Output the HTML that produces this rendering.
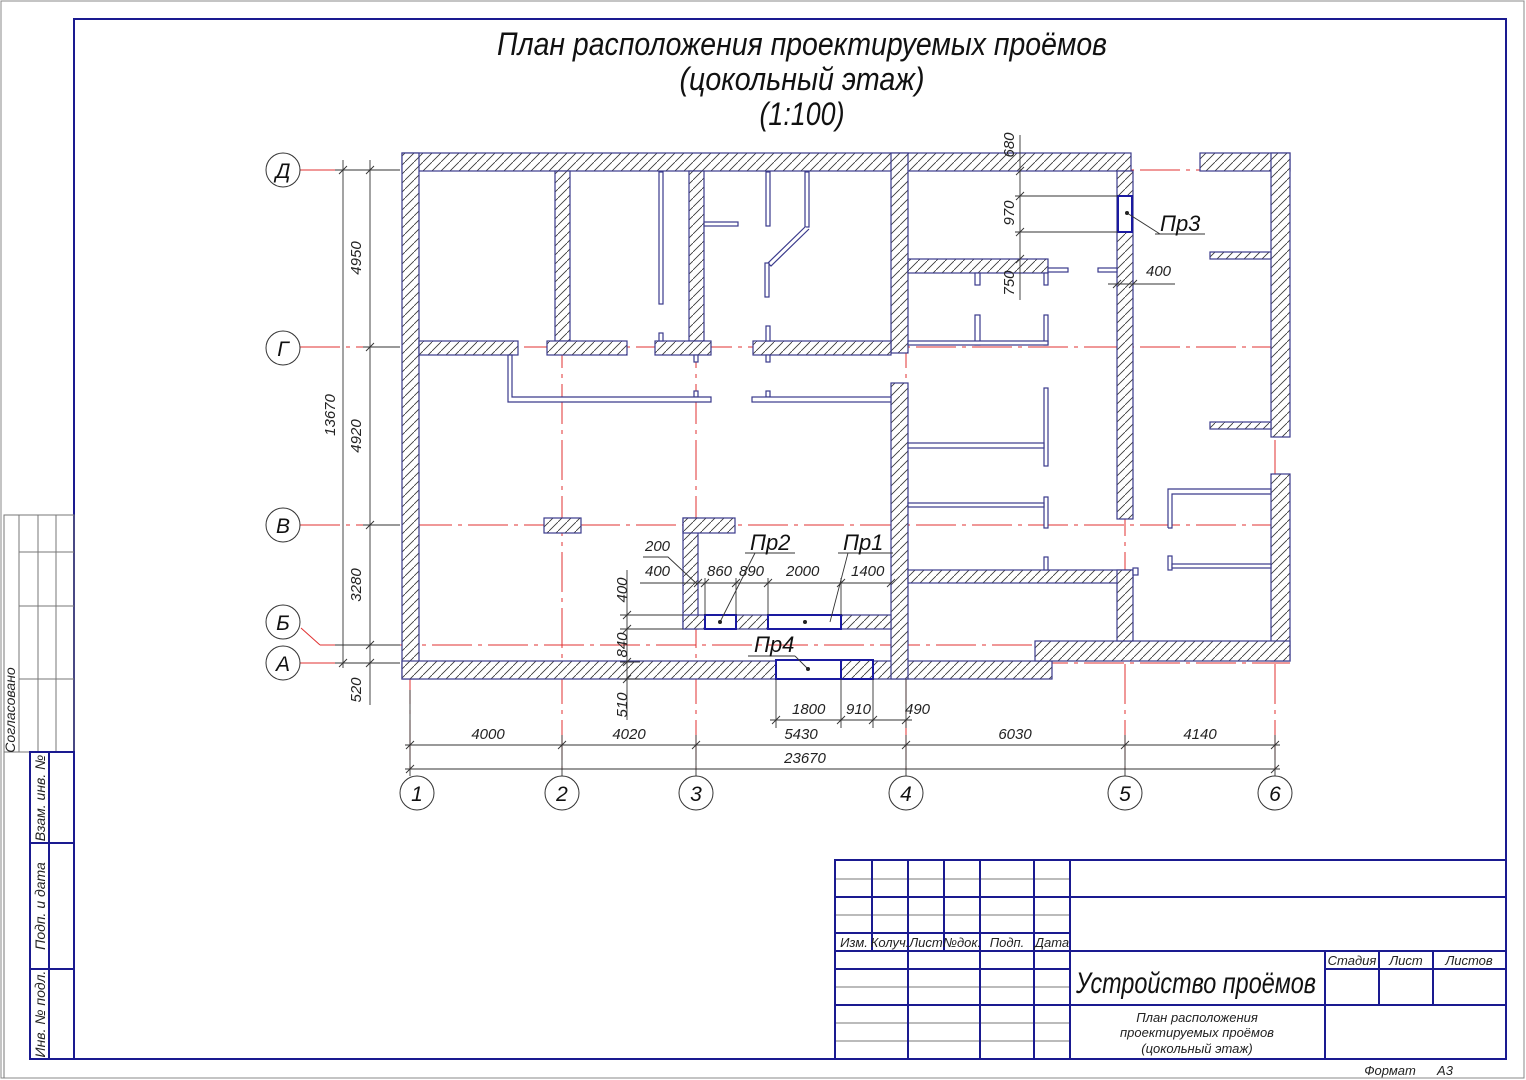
<!DOCTYPE html>
<html><head><meta charset="utf-8"><style>
html,body{margin:0;padding:0;background:#fff;}
svg{display:block;font-family:"Liberation Sans",sans-serif;font-style:italic;}
.w{fill:url(#h);stroke:#3a3a8c;stroke-width:1.2}
.p{fill:#fff;stroke:#3a3a8c;stroke-width:1.2}
.o{fill:#fff;stroke:#1a1aa0;stroke-width:2}
.ax{stroke:#e03030;stroke-width:1;stroke-dasharray:40 6 4 6;fill:none}
.d{stroke:#333;stroke-width:0.9;fill:none}
.t{font-size:15px;fill:#222}
.b{fill:#fff;stroke:#333;stroke-width:1}
.bl{stroke:#1a1a90;stroke-width:2;fill:none}
.g{stroke:#777;stroke-width:1;fill:none}
</style></head><body>
<svg width="1526" height="1080" viewBox="0 0 1526 1080" xmlns="http://www.w3.org/2000/svg">
<defs>
<pattern id="h" patternUnits="userSpaceOnUse" width="9" height="9">
<rect width="9" height="9" fill="#fff"/>
<path d="M-1,10 L10,-1" stroke="#333" stroke-width="0.8"/>
</pattern>
</defs>
<rect x="1" y="1" width="1523" height="1077" fill="none" stroke="#888"/>
<rect x="74" y="19" width="1432" height="1040" class="bl"/>

<!-- title -->
<text x="802" y="55" font-size="32" text-anchor="middle" textLength="610" lengthAdjust="spacingAndGlyphs" fill="#111">План расположения проектируемых проёмов</text>
<text x="802" y="90" font-size="32" text-anchor="middle" textLength="245" lengthAdjust="spacingAndGlyphs" fill="#111">(цокольный этаж)</text>
<text x="802" y="125" font-size="32" text-anchor="middle" textLength="85" lengthAdjust="spacingAndGlyphs" fill="#111">(1:100)</text>

<!-- axes -->
<g class="ax">
<line x1="300" y1="170" x2="1290" y2="170"/>
<line x1="300" y1="347" x2="1290" y2="347"/>
<line x1="300" y1="525" x2="1290" y2="525"/>
<line x1="320" y1="645" x2="1290" y2="645"/>
<line x1="300" y1="663" x2="1290" y2="663"/>
<line x1="410" y1="160" x2="410" y2="776"/>
<line x1="562" y1="160" x2="562" y2="776"/>
<line x1="696" y1="160" x2="696" y2="776"/>
<line x1="906" y1="160" x2="906" y2="776"/>
<line x1="1125" y1="160" x2="1125" y2="776"/>
<line x1="1275" y1="160" x2="1275" y2="776"/>
</g>
<line x1="301" y1="628" x2="320" y2="645" stroke="#e03030"/>

<!-- walls -->
<rect class="w" x="402" y="153" width="729" height="18"/>
<rect class="w" x="1200" y="153" width="90" height="18"/>
<rect class="w" x="402" y="153" width="17" height="526"/>
<rect class="w" x="402" y="661" width="650" height="18"/>
<rect class="w" x="891" y="153" width="17" height="200"/>
<rect class="w" x="891" y="383" width="17" height="296"/>
<rect class="w" x="1117" y="171" width="16" height="348"/>
<rect class="w" x="1271" y="153" width="19" height="284"/>
<rect class="w" x="1271" y="474" width="19" height="187"/>
<rect class="w" x="1035" y="641" width="255" height="20"/>
<rect class="w" x="908" y="570" width="225" height="13"/>
<rect class="w" x="1117" y="570" width="16" height="71"/>
<rect class="w" x="908" y="259" width="140" height="14"/>
<rect class="w" x="1210" y="252" width="61" height="7"/>
<rect class="w" x="1210" y="422" width="61" height="7"/>
<rect class="w" x="555" y="171" width="15" height="170"/>
<rect class="w" x="689" y="171" width="15" height="170"/>
<rect class="w" x="419" y="341" width="99" height="14"/>
<rect class="w" x="547" y="341" width="80" height="14"/>
<rect class="w" x="655" y="341" width="56" height="14"/>
<rect class="w" x="753" y="341" width="138" height="14"/>
<rect class="w" x="544" y="518" width="37" height="15"/>
<rect class="w" x="683" y="518" width="15" height="111"/>
<rect class="w" x="683" y="518" width="52" height="15"/>
<rect class="w" x="683" y="615" width="208" height="14"/>

<!-- openings -->
<rect class="o" x="705" y="615" width="31" height="14"/>
<rect class="o" x="768" y="615" width="73" height="14"/>
<rect class="o" x="776" y="660" width="65" height="19"/>
<rect x="841" y="660" width="32" height="19" fill="url(#h)" stroke="#1a1aa0" stroke-width="2"/>
<rect class="o" x="1118" y="196" width="14" height="36"/>

<!-- partitions -->
<rect class="p" x="659" y="172" width="4" height="132"/>
<rect class="p" x="766" y="172" width="4" height="54"/>
<rect class="p" x="805" y="172" width="4" height="55"/>
<polyline points="805,227 768,263 771,266 809,229" class="p"/>
<rect class="p" x="765" y="263" width="4" height="34"/>
<rect class="p" x="766" y="326" width="4" height="15"/>
<rect class="p" x="766" y="355" width="4" height="7"/>
<rect class="p" x="766" y="391" width="4" height="6"/>
<rect class="p" x="659" y="333" width="4" height="8"/>
<rect class="p" x="704" y="222" width="34" height="4"/>
<rect class="p" x="694" y="355" width="4" height="7"/>
<rect class="p" x="694" y="391" width="4" height="6"/>
<polyline class="p" points="508,355 512,355 512,397 711,397 711,402 508,402 508,355"/>
<rect class="p" x="752" y="397" width="139" height="5"/>
<rect class="p" x="975" y="273" width="5" height="12"/>
<rect class="p" x="1044" y="273" width="4" height="12"/>
<rect class="p" x="1048" y="268" width="20" height="4"/>
<rect class="p" x="1098" y="268" width="19" height="4"/>
<rect class="p" x="975" y="315" width="5" height="30"/>
<rect class="p" x="1044" y="315" width="4" height="30"/>
<rect class="p" x="908" y="341" width="140" height="4"/>
<rect class="p" x="1044" y="388" width="4" height="78"/>
<rect class="p" x="908" y="443" width="136" height="5"/>
<rect class="p" x="1044" y="497" width="4" height="31"/>
<rect class="p" x="908" y="503" width="136" height="4"/>
<rect class="p" x="1044" y="557" width="4" height="13"/>
<polyline class="p" points="1168,528 1168,489 1271,489 1271,494 1172,494 1172,528 1168,528"/>
<rect class="p" x="1168" y="556" width="4" height="14"/>
<rect class="p" x="1172" y="564" width="99" height="4"/>
<rect class="p" x="1133" y="568" width="5" height="7"/>

<!-- bubbles -->
<g class="b">
<circle cx="283" cy="170" r="17"/><circle cx="283" cy="348" r="17"/><circle cx="283" cy="525" r="17"/><circle cx="283" cy="622" r="17"/><circle cx="283" cy="663" r="17"/>
<circle cx="417" cy="793" r="17"/><circle cx="562" cy="793" r="17"/><circle cx="696" cy="793" r="17"/><circle cx="906" cy="793" r="17"/><circle cx="1125" cy="793" r="17"/><circle cx="1275" cy="793" r="17"/>
</g>
<g font-size="21" text-anchor="middle" fill="#111">
<text x="283" y="178">Д</text><text x="283" y="356">Г</text><text x="283" y="533">В</text><text x="283" y="630">Б</text><text x="283" y="671">А</text>
<text x="417" y="801">1</text><text x="562" y="801">2</text><text x="696" y="801">3</text><text x="906" y="801">4</text><text x="1125" y="801">5</text><text x="1275" y="801">6</text>
</g>

<!-- left dims -->
<g class="d">
<line x1="343" y1="160" x2="343" y2="668"/>
<line x1="370" y1="160" x2="370" y2="705"/>
<line x1="335" y1="170" x2="400" y2="170"/>
<line x1="363" y1="347" x2="400" y2="347"/>
<line x1="363" y1="525" x2="400" y2="525"/>
<line x1="335" y1="645" x2="400" y2="645"/>
<line x1="335" y1="663" x2="400" y2="663"/>
<path d="M339,174 l8,-8 M366,174 l8,-8 M366,351 l8,-8 M366,529 l8,-8 M366,649 l8,-8 M339,667 l8,-8 M366,667 l8,-8"/>
</g>
<g class="t" text-anchor="middle">
<text transform="translate(361,258) rotate(-90)">4950</text>
<text transform="translate(361,436) rotate(-90)">4920</text>
<text transform="translate(335,415) rotate(-90)">13670</text>
<text transform="translate(361,585) rotate(-90)">3280</text>
<text transform="translate(361,690) rotate(-90)">520</text>
</g>

<!-- mid dims -->
<g class="d">
<line x1="627" y1="570" x2="627" y2="720"/>
<line x1="620" y1="615" x2="683" y2="615"/>
<line x1="620" y1="629" x2="683" y2="629"/>
<line x1="620" y1="662" x2="640" y2="662"/>
<line x1="620" y1="679" x2="640" y2="679"/>
<path d="M623,619 l8,-8 M623,633 l8,-8 M623,666 l8,-8 M623,683 l8,-8"/>
<line x1="640" y1="583" x2="891" y2="583"/>
<line x1="705" y1="578" x2="705" y2="615"/><line x1="736" y1="578" x2="736" y2="615"/>
<line x1="768" y1="578" x2="768" y2="615"/><line x1="841" y1="578" x2="841" y2="615"/>
<path d="M694,587 l8,-8 M701,587 l8,-8 M732,587 l8,-8 M764,587 l8,-8 M837,587 l8,-8 M887,587 l8,-8"/>
<polyline points="643,557 668,557 697,584"/>
<polyline points="745,553 795,553"/><line x1="755" y1="553" x2="720" y2="622"/>
<polyline points="838,553 893,553"/><line x1="848" y1="553" x2="830" y2="622"/>
<polyline points="748,656 795,656"/><line x1="795" y1="656" x2="808" y2="669"/>
<polyline points="1155,234 1205,234"/><line x1="1160" y1="234" x2="1127" y2="213"/>
<line x1="776" y1="679" x2="776" y2="728"/><line x1="841" y1="679" x2="841" y2="728"/>
<line x1="873" y1="679" x2="873" y2="728"/><line x1="906" y1="679" x2="906" y2="728"/>
<line x1="770" y1="720" x2="912" y2="720"/>
<path d="M772,724 l8,-8 M837,724 l8,-8 M869,724 l8,-8 M902,724 l8,-8"/>
<line x1="1020" y1="135" x2="1020" y2="300"/>
<line x1="1015" y1="196" x2="1118" y2="196"/><line x1="1015" y1="232" x2="1118" y2="232"/>
<path d="M1016,175 l8,-8 M1016,200 l8,-8 M1016,236 l8,-8 M1016,263 l8,-8"/>
<line x1="1108" y1="284" x2="1175" y2="284"/>
<path d="M1113,288 l8,-8 M1129,288 l8,-8"/>
</g>
<circle cx="720" cy="622" r="2" fill="#222"/><circle cx="805" cy="622" r="2" fill="#222"/>
<circle cx="808" cy="669" r="2" fill="#222"/><circle cx="1127" cy="213" r="2" fill="#222"/>
<g class="t">
<text x="645" y="551">200</text><text x="645" y="576">400</text>
<text x="707" y="576">860</text><text x="739" y="576">890</text>
<text x="786" y="576">2000</text><text x="851" y="576">1400</text>
<text x="792" y="714">1800</text><text x="846" y="714">910</text><text x="905" y="714">490</text>
<text transform="translate(627,590) rotate(-90)" text-anchor="middle">400</text>
<text transform="translate(627,645) rotate(-90)" text-anchor="middle">840</text>
<text transform="translate(627,705) rotate(-90)" text-anchor="middle">510</text>
<text transform="translate(1014,145) rotate(-90)" text-anchor="middle">680</text>
<text transform="translate(1014,213) rotate(-90)" text-anchor="middle">970</text>
<text transform="translate(1014,283) rotate(-90)" text-anchor="middle">750</text>
<text x="1146" y="276">400</text>
</g>
<g font-size="22" fill="#111">
<text x="750" y="550">Пр2</text><text x="843" y="550">Пр1</text>
<text x="754" y="652">Пр4</text><text x="1160" y="231">Пр3</text>
</g>

<!-- bottom dims -->
<g class="d">
<line x1="410" y1="690" x2="410" y2="776"/><line x1="562" y1="735" x2="562" y2="776"/>
<line x1="696" y1="735" x2="696" y2="776"/><line x1="906" y1="735" x2="906" y2="776"/>
<line x1="1125" y1="735" x2="1125" y2="776"/><line x1="1275" y1="735" x2="1275" y2="776"/>
<line x1="405" y1="745" x2="1280" y2="745"/>
<line x1="405" y1="769" x2="1280" y2="769"/>
<path d="M406,749 l8,-8 M558,749 l8,-8 M692,749 l8,-8 M902,749 l8,-8 M1121,749 l8,-8 M1271,749 l8,-8 M406,773 l8,-8 M1271,773 l8,-8"/>
</g>
<g class="t" text-anchor="middle">
<text x="488" y="739">4000</text><text x="629" y="739">4020</text><text x="801" y="739">5430</text>
<text x="1015" y="739">6030</text><text x="1200" y="739">4140</text><text x="805" y="763">23670</text>
</g>

<!-- left stamp -->
<g class="g">
<rect x="4" y="515" width="70" height="237"/>
<line x1="19" y1="515" x2="19" y2="752"/><line x1="38" y1="515" x2="38" y2="752"/><line x1="56" y1="515" x2="56" y2="752"/>
<line x1="19" y1="552" x2="74" y2="552"/><line x1="19" y1="606" x2="74" y2="606"/><line x1="19" y1="679" x2="74" y2="679"/>
<line x1="4" y1="752" x2="4" y2="1078"/>
</g>
<g class="bl">
<rect x="30" y="752" width="44" height="307"/>
<line x1="49" y1="752" x2="49" y2="1059"/>
<line x1="30" y1="843" x2="74" y2="843"/><line x1="30" y1="969" x2="74" y2="969"/>
</g>
<g font-size="14" fill="#222" text-anchor="middle">
<text transform="translate(15,710) rotate(-90)">Согласовано</text>
<text transform="translate(45,798) rotate(-90)">Взам. инв. №</text>
<text transform="translate(45,906) rotate(-90)">Подп. и дата</text>
<text transform="translate(45,1014) rotate(-90)">Инв. № подл.</text>
</g>

<!-- title block -->
<g class="g">
<line x1="835" y1="879" x2="1070" y2="879"/><line x1="835" y1="915" x2="1070" y2="915"/>
<line x1="835" y1="987" x2="1070" y2="987"/><line x1="835" y1="1023" x2="1070" y2="1023"/><line x1="835" y1="1041" x2="1070" y2="1041"/>
</g>
<g class="bl">
<rect x="835" y="860" width="671" height="199"/>
<line x1="835" y1="897" x2="1506" y2="897"/>
<line x1="835" y1="933" x2="1070" y2="933"/>
<line x1="835" y1="951" x2="1506" y2="951"/>
<line x1="835" y1="969" x2="1070" y2="969"/>
<line x1="835" y1="1005" x2="1506" y2="1005"/>
<line x1="872" y1="860" x2="872" y2="951"/><line x1="908" y1="860" x2="908" y2="1059"/>
<line x1="944" y1="860" x2="944" y2="951"/><line x1="980" y1="860" x2="980" y2="1059"/>
<line x1="1034" y1="860" x2="1034" y2="1059"/><line x1="1070" y1="860" x2="1070" y2="1059"/>
<line x1="1325" y1="951" x2="1325" y2="1059"/>
<line x1="1379" y1="951" x2="1379" y2="1005"/><line x1="1433" y1="951" x2="1433" y2="1005"/>
<line x1="1325" y1="969" x2="1506" y2="969"/>
</g>
<g font-size="13" fill="#222" text-anchor="middle">
<text x="854" y="947">Изм.</text><text x="890" y="947">Колуч.</text><text x="926" y="947">Лист</text>
<text x="962" y="947">№док.</text><text x="1007" y="947">Подп.</text><text x="1052" y="947">Дата</text>
<text x="1352" y="965">Стадия</text><text x="1406" y="965">Лист</text><text x="1469" y="965">Листов</text>
<text x="1197" y="1022">План расположения</text>
<text x="1197" y="1037">проектируемых проёмов</text>
<text x="1197" y="1053">(цокольный этаж)</text>
<text x="1390" y="1075">Формат</text><text x="1445" y="1075">А3</text>
</g>
<text x="1196" y="993" font-size="30" text-anchor="middle" textLength="240" lengthAdjust="spacingAndGlyphs" fill="#111">Устройство проёмов</text>
</svg>
</body></html>
